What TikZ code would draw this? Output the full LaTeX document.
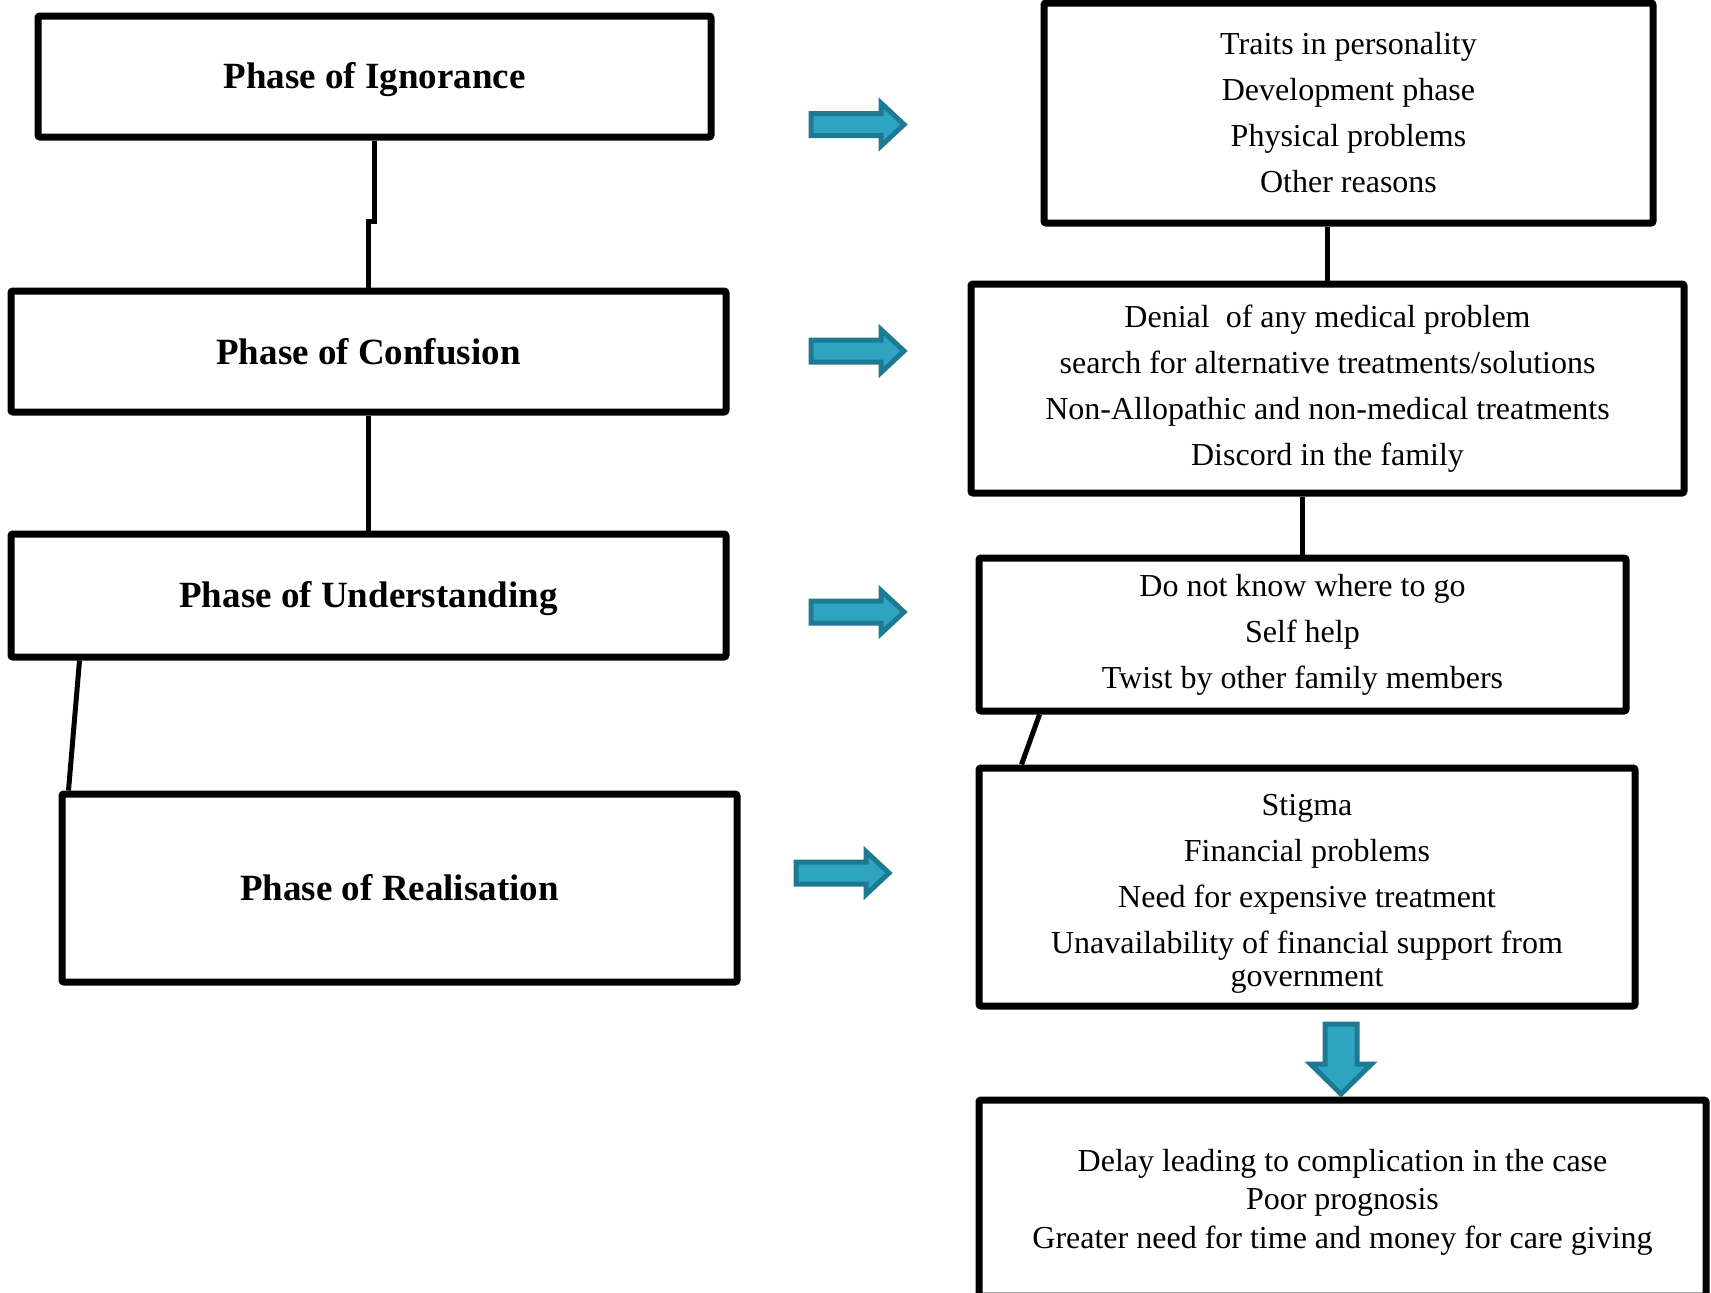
\documentclass[tikz,border=0pt]{standalone}
\usepackage{fontspec}
\setmainfont{Liberation Serif}
\usetikzlibrary{calc}
\definecolor{arrfill}{HTML}{2FA4C1}
\definecolor{arrdraw}{HTML}{1E7A92}
\tikzset{
  box/.style={draw=black, line width=7pt, rounded corners=2pt, fill=white, inner sep=0pt, align=center},
  phase/.style={box, font={\fontsize{37}{44}\selectfont\bfseries}},
  info/.style={box, font={\fontsize{32}{46}\selectfont}},
  phasetext/.style={font={\fontsize{37}{44}\selectfont\bfseries}, align=center, inner sep=0pt},
  infotext/.style={font={\fontsize{32}{46}\selectfont}, align=center, inner sep=0pt},
  link/.style={draw=black, line width=5pt},
  arrowstyle/.style={fill=arrfill, draw=arrdraw, line width=5pt, line join=miter},
  rarrow/.pic={\draw[arrowstyle] (0,-11) -- (70,-11) -- (70,-21.5) -- (93,0) -- (70,21.5) -- (70,11) -- (0,11) -- cycle;},
  darrow/.pic={\draw[arrowstyle] (-16,0) -- (16,0) -- (16,40) -- (30.5,40) -- (0,70) -- (-30.5,40) -- (-16,40) -- cycle;}
}
\begin{document}
\begin{tikzpicture}[x=1pt, y=-1pt]
\useasboundingbox (0,0) rectangle (1711,1293);
\clip (0,0) rectangle (1711,1293);
\fill[white] (0,0) rectangle (1711,1293);

% left column
\node[phase, minimum width=673pt, minimum height=121pt,
  label={[phasetext, yshift=-3pt]center:Phase of Ignorance}] (L1) at (374.5,76.5) {};
\node[phase, minimum width=715pt, minimum height=121pt] (L2) at (368.5,351.5) {Phase of Confusion};
\node[phase, minimum width=715pt, minimum height=123pt,
  label={[phasetext, yshift=-3pt]center:Phase of Understanding}] (L3) at (368.5,595.5) {};
\node[phase, minimum width=675pt, minimum height=188pt] (L4) at (399.5,888) {Phase of Realisation};

% right column
\node[info, minimum width=609pt, minimum height=220pt] (R1) at (1348.5,113)
  {Traits in personality\\Development phase\\Physical problems\\Other reasons};
\node[info, minimum width=713pt, minimum height=209pt] (R2) at (1327.5,388.5)
  {Denial\ \ of any medical problem\\search for alternative treatments/solutions\\Non-Allopathic and non-medical treatments\\Discord in the family};
\node[info, minimum width=647pt, minimum height=153pt] (R3) at (1302.5,634.5)
  {Do not know where to go\\Self help\\Twist by other family members};
\node[info, minimum width=656pt, minimum height=238pt,
  label={[infotext, yshift=-7pt]center:Stigma\\Financial problems\\Need for expensive treatment\\Unavailability of financial support from\\[-13pt]government}] (R4) at (1307,887) {};
\node[info, minimum width=727pt, minimum height=196pt,
  label={[infotext, font={\fontsize{32}{38.5}\selectfont}, yshift=-4pt]center:Delay leading to complication in the case\\Poor prognosis\\Greater need for time and money for care giving}] (R5) at (1342.5,1198) {};

% connectors
\draw[link] (L1.south) -- ++(0,81) -| (L2.north);
\draw[link] (L2.south) -- (L3.north);
\draw[link] ($(L3.south west)+(72,0)$) -- ($(L4.north west)+(10,0)$);
\draw[link] (R2.north |- R1.south) -- (R2.north);
\draw[link] (R3.north |- R2.south) -- (R3.north);
\draw[link] ($(R3.south west)+(64,0)$) -- ($(R4.north west)+(46,0)$);

% block arrows
\pic at (811,124.5) {rarrow};
\pic at (811,351) {rarrow};
\pic at (811,612) {rarrow};
\pic at (796,873) {rarrow};
\pic at (1341,1024) {darrow};
\end{tikzpicture}
\end{document}
